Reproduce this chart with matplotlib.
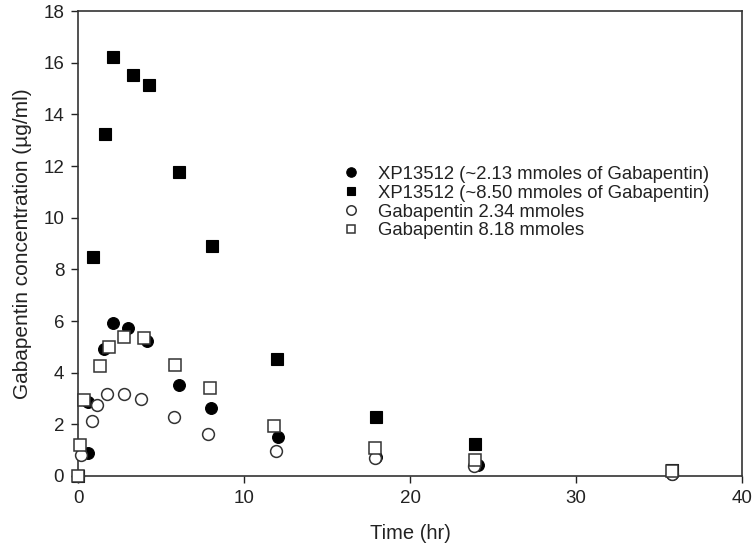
import matplotlib
matplotlib.use("Agg")
import matplotlib.pyplot as plt

plt.rcParams['font.family'] = ['Liberation Sans', 'DejaVu Sans']

# XP13512 (~2.13 mmoles of Gabapentin) - filled circles
t_xp_low = [0.0, 0.6, 0.6, 1.55, 2.1, 3.0, 4.15, 6.1, 8.0, 12.05, 17.95, 24.1, 35.8]
c_xp_low = [0.0, 0.89, 2.85, 4.9, 5.93, 5.72, 5.24, 3.52, 2.62, 1.52, 0.75, 0.43, 0.08]

# XP13512 (~8.50 mmoles of Gabapentin) - filled squares
t_xp_high = [0.0, 0.9, 1.6, 2.1, 3.3, 4.3, 6.1, 8.1, 12.0, 17.95, 23.9, 35.8]
c_xp_high = [0.0, 8.48, 13.25, 16.22, 15.52, 15.14, 11.77, 8.9, 4.52, 2.29, 1.23, 0.22]

# Gabapentin 2.34 mmoles - open circles
t_gp_low = [0.0, 0.2, 0.85, 1.15, 1.75, 2.8, 3.8, 5.8, 7.85, 11.9, 17.9, 23.85, 35.8]
c_gp_low = [0.0, 0.82, 2.14, 2.75, 3.17, 3.17, 3.0, 2.27, 1.64, 0.98, 0.7, 0.38, 0.06]

# Gabapentin 8.18 mmoles - open squares
t_gp_high = [0.0, 0.1, 0.35, 1.35, 1.85, 2.8, 3.95, 5.85, 7.95, 11.8, 17.9, 23.9, 35.8]
c_gp_high = [0.0, 1.2, 2.95, 4.26, 4.98, 5.39, 5.33, 4.3, 3.4, 1.95, 1.08, 0.62, 0.2]

labels = ["XP13512 (~2.13 mmoles of Gabapentin)",
          "XP13512 (~8.50 mmoles of Gabapentin)",
          "Gabapentin 2.34 mmoles",
          "Gabapentin 8.18 mmoles"]

fig = plt.figure(figsize=(7.56, 5.6), dpi=100)
ax = fig.add_axes([0.1032, 0.15, 0.8783, 0.830])

ms = 8.5
ax.plot(t_xp_low, c_xp_low, 'o', ms=ms, mfc='black', mec='black', mew=0.8, ls='none',
        label=labels[0], zorder=3, clip_on=False)
ax.plot(t_xp_high, c_xp_high, 's', ms=ms - 0.5, mfc='black', mec='black', mew=0.8, ls='none',
        label=labels[1], zorder=3, clip_on=False)
ax.plot(t_gp_low, c_gp_low, 'o', ms=ms, mfc='white', mec='#333333', mew=1.1, ls='none',
        label=labels[2], zorder=4, clip_on=False)
ax.plot(t_gp_high, c_gp_high, 's', ms=ms - 0.5, mfc='white', mec='#333333', mew=1.1, ls='none',
        label=labels[3], zorder=5, clip_on=False)

ax.set_xlim(0, 40)
ax.set_ylim(0, 18)
ax.set_xticks([0, 10, 20, 30, 40])
ax.set_yticks(range(0, 19, 2))
ax.tick_params(direction='out', length=5, width=1, labelsize=13.5, colors='#222222', pad=5)
ax.tick_params(top=False, right=False)
for sp in ax.spines.values():
    sp.set_color('#333333')
    sp.set_linewidth(1.2)

ax.set_xlabel("Time (hr)", fontsize=14.5, color='#222222', labelpad=12)
ax.set_ylabel("Gabapentin concentration (\u00b5g/ml)", fontsize=15, color='#222222', labelpad=8)

leg = ax.legend(loc='upper left', bbox_to_anchor=(0.372, 0.703), frameon=False,
                fontsize=13.3, handletextpad=0.95, labelspacing=0.1, handlelength=1.0,
                markerscale=0.8)
for txt in leg.get_texts():
    txt.set_color('#222222')

fig.savefig("out.png", dpi=100)
